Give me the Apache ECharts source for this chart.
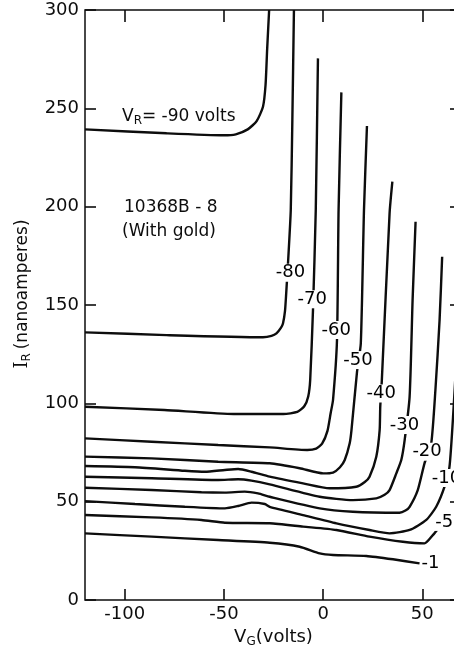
<!DOCTYPE html>
<html>
<head>
<meta charset="utf-8">
<script src="https://cdn.jsdelivr.net/npm/echarts@6/dist/echarts.min.js"></script>
<style>
  html, body { margin: 0; padding: 0; background: #fff; overflow: hidden; }
  #chart { width: 454px; height: 647px; }
</style>
</head>
<body>
<div id="chart"></div>
<script>
// V_G (volts) vs I_R (nanoamperes), one curve per V_R
const xTicks = [-100, -50, 0, 50]
const vrValues = [-90, -80, -70, -60, -50, -40, -30, -20, -10, -5, -1]

const c90 = [[-120, 239.3], [-78.9, 237.3], [-50, 236.3], [-44, 236.8], [-38, 239.3], [-33.5, 243.5], [-30.3, 250.8], [-29, 262], [-28.2, 280], [-27.2, 300]]
const c80 = [[-120, 136.1], [-78.9, 134.7], [-30.3, 133.6], [-26, 134.3], [-23.5, 135.6], [-21.2, 138.5], [-20.2, 140.7], [-19.2, 147], [-18.6, 155.9], [-17.6, 172.9], [-16.3, 198.3], [-15.5, 244], [-14.7, 300]]
const c70 = [[-120, 98.3], [-80, 96.6], [-45, 94.6], [-20, 94.6], [-13, 95.6], [-9.5, 98.5], [-7.5, 103.5], [-6.5, 112], [-5.1, 147.4], [-3.7, 198.3], [-2.6, 275.4]]
const c60 = [[-120, 82.2], [-86.4, 80.5], [-52.9, 78.8], [-26.9, 77.6], [-8, 76.3], [-3.5, 77], [-0.5, 79.5], [2.2, 86], [3.8, 95], [5.0, 101.7], [7.0, 132.2], [7.8, 198.3], [9.2, 258.1]]
const c50 = [[-120, 72.9], [-86.4, 72.0], [-52.9, 70.3], [-26.9, 69.5], [-11.8, 67.0], [0, 64.4], [5, 64.8], [8.5, 67.5], [10.9, 71.2], [13.4, 79.7], [14.3, 86.4], [17.1, 116.1], [19.0, 130.5], [20.6, 198.3], [22.1, 241.0]]
const c40 = [[-120, 68.1], [-94.8, 67.5], [-69.7, 65.7], [-59.6, 65.2], [-49.5, 66.1], [-42.8, 66.6], [-36.1, 65.2], [-26.9, 62.7], [-10.1, 59.3], [3.3, 56.8], [16.7, 57.6], [21, 60], [23.4, 62.7], [26.8, 72.9], [28.5, 86.4], [28.8, 98.3], [29.6, 111.8], [33.5, 196.6], [34.9, 212.7]]
const c30 = [[-120, 62.7], [-86.4, 61.9], [-52.9, 61.0], [-42.8, 61.4], [-36.1, 60.7], [-26.9, 58.8], [-1.7, 52.5], [15.0, 50.8], [26.8, 51.7], [31, 53.5], [33.5, 55.9], [36.9, 64.4], [39.4, 71.2], [41.1, 81.3], [43.6, 103.4], [45.1, 152.5], [46.6, 192.3]]
const c20 = [[-120, 57.1], [-86.4, 55.9], [-61.3, 54.8], [-49.5, 54.6], [-39.5, 55.1], [-32.8, 54.2], [-26.9, 52.5], [-1.7, 46.6], [15.0, 44.9], [38.5, 44.4], [41.5, 45.5], [43.6, 47.4], [47.7, 55.9], [51.1, 69.5], [54.5, 79.7], [56.6, 106.8], [58.7, 142.3], [60.0, 174.5]]
const c10 = [[-120, 50.3], [-94.8, 48.8], [-69.7, 47.4], [-49.5, 46.6], [-42.8, 47.8], [-36.1, 49.5], [-29.4, 48.8], [-26.9, 47.4], [-10.1, 43.2], [6.7, 39.0], [23.4, 35.6], [33.5, 33.9], [43.6, 35.6], [52.0, 40.7], [57.0, 47.4], [61.2, 57.6], [63.7, 67.8], [65.7, 96.6], [67.7, 132]]
const c5 = [[-120, 43.2], [-86.4, 42.0], [-61.3, 40.7], [-49.5, 39.3], [-26.9, 39.0], [-10.1, 37.3], [6.7, 35.6], [23.4, 32.2], [40.2, 29.6], [51.1, 28.8], [55.3, 33.0], [58.7, 37.3]]
const c1 = [[-120, 33.9], [-86.4, 32.2], [-52.9, 30.5], [-26.9, 29.1], [-11.8, 27.1], [-1.7, 23.7], [5, 22.9], [21.8, 22.4], [35.2, 20.7], [48.6, 18.6]]

// where each V_R value is written on its curve: [V_G, I_R, text]
const curveLabels = [
  [-16.4, 166.4, '-80'], [-5.5, 152.9, '-70'], [6.6, 137.3, '-60'], [17.6, 122, '-50'],
  [29.3, 105, '-40'], [41.0, 89, '-30'], [52.4, 75.4, '-20'], [62.2, 62.0, '-10'],
  [61, 39.7, '-5'], [54.1, 18.8, '-1']
]

const curves = [c90, c80, c70, c60, c50, c40, c30, c20, c10, c5, c1]
const ink = '#0d0d0d'
const font = 'DejaVu Sans'

const chart = echarts.init(document.getElementById('chart'))

const lineSeries = curves.map((d, i) => ({
  name: String(vrValues[i]),
  type: 'line',
  data: d,
  showSymbol: false,
  smooth: 0.2,
  lineStyle: { color: ink, width: 2.4 },
  z: 2
}))

const tickStyle = { color: ink, width: 1.6 }

chart.setOption({
  backgroundColor: '#fff',
  animation: false,
  textStyle: { fontFamily: font, color: ink },
  // the right frame falls a little outside the picture, as in the original
  grid: {
    left: 85, top: 10, width: 377, height: 590,
    outerBoundsMode: 'none', containLabel: false,
    show: true, borderColor: ink, borderWidth: 1.5
  },
  xAxis: [
    {
      type: 'value', min: -120, max: 70, position: 'bottom',
      axisLine: { show: false, onZero: false },
      axisTick: { inside: true, length: 11, customValues: xTicks, lineStyle: tickStyle },
      axisLabel: { customValues: xTicks, fontSize: 18, margin: 5, color: ink, fontFamily: font },
      splitLine: { show: false },
      name: '{v|V}{s|G}{t|(volts)}', nameLocation: 'middle', nameGap: 21,
      nameTextStyle: {
        rich: {
          v: { fontSize: 18, fontFamily: font, color: ink },
          s: { fontSize: 12, fontFamily: font, color: ink, padding: [9, 0, 0, 0] },
          t: { fontSize: 18, fontFamily: font, color: ink }
        }
      }
    },
    {
      type: 'value', min: -120, max: 70, position: 'top',
      axisLine: { show: false, onZero: false },
      axisTick: { show: true, inside: true, length: 12, customValues: xTicks, lineStyle: tickStyle },
      axisLabel: { show: false, customValues: xTicks },
      splitLine: { show: false }
    }
  ],
  yAxis: [
    {
      type: 'value', min: 0, max: 300, interval: 50, position: 'left',
      axisLine: { show: false, onZero: false },
      axisTick: { inside: true, length: 11, lineStyle: tickStyle },
      axisLabel: { fontSize: 18, margin: 6, color: ink, fontFamily: font },
      splitLine: { show: false },
      name: '{i|I}{s|R} {t|(nanoamperes)}', nameLocation: 'middle', nameGap: 52,
      nameTextStyle: {
        padding: [0, 0, 0, 22],
        rich: {
          i: { fontSize: 18, fontFamily: 'DejaVu Serif', color: ink },
          s: { fontSize: 12, fontFamily: font, color: ink, padding: [9, 0, 0, 0] },
          t: { fontSize: 17, fontFamily: font, color: ink }
        }
      }
    },
    {
      type: 'value', min: 0, max: 300, interval: 50, position: 'right',
      axisLine: { show: false, onZero: false },
      axisTick: { inside: true, length: 12, lineStyle: tickStyle },
      axisLabel: { show: false },
      splitLine: { show: false }
    }
  ],
  series: lineSeries.concat([{
    type: 'scatter',
    data: curveLabels,
    symbolSize: 0,
    itemStyle: { opacity: 1 },
    z: 5,
    label: {
      show: true,
      position: 'inside',
      formatter: p => p.value[2],
      fontSize: 18,
      fontFamily: font,
      color: '#000',
      backgroundColor: '#fff',
      padding: [0, 1]
    }
  }]),
  graphic: [
    {
      type: 'text', left: 122, top: 108, z: 10,
      style: {
        text: '{v|V}{s|R}{t|= -90 volts}',
        rich: {
          v: { fontSize: 17, fontFamily: font, fill: ink },
          s: { fontSize: 12, fontFamily: font, fill: ink, padding: [9, 0, 0, 0] },
          t: { fontSize: 17, fontFamily: font, fill: ink }
        }
      }
    },
    {
      type: 'text', left: 124, top: 199, z: 10,
      style: { text: '10368B - 8', fontSize: 17, fontFamily: font, fill: ink }
    },
    {
      type: 'text', left: 122, top: 223, z: 10,
      style: { text: '(With gold)', fontSize: 17, fontFamily: font, fill: ink }
    }
  ]
})
</script>
</body>
</html>
